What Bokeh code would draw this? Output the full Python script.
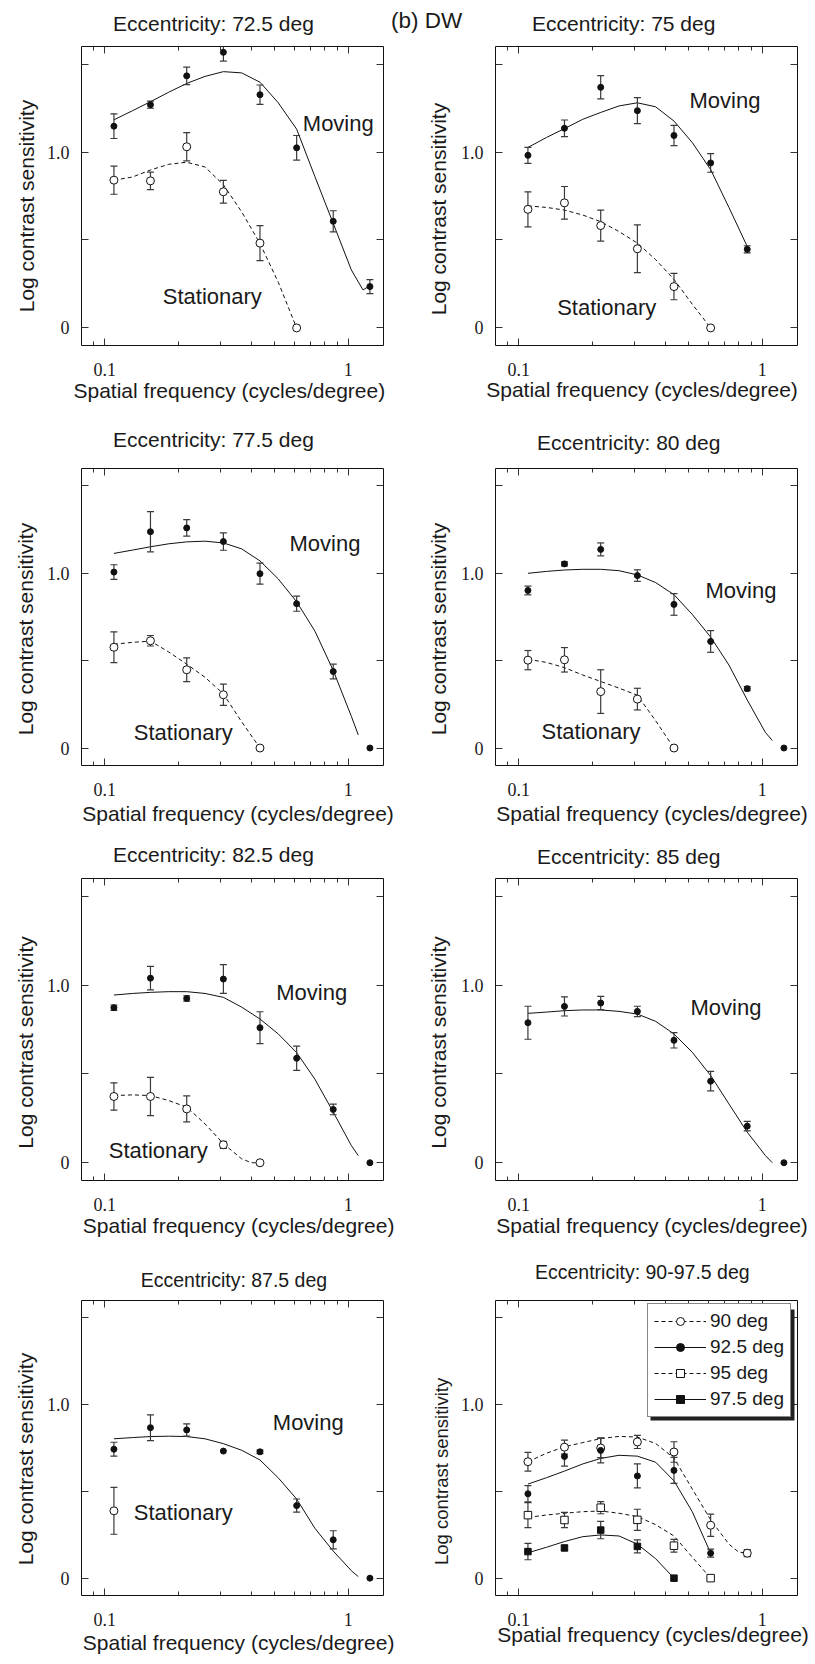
import math
from bokeh.plotting import figure
from bokeh.models import (Range1d, FixedTicker, CustomJSTickFormatter, LinearAxis, LogAxis,
                          Label, Legend, LegendItem, BoxAnnotation, Title)
from bokeh.layouts import column, row
from bokeh.embed import file_html
from bokeh.resources import INLINE

# ---------------- data ----------------
SF = [0.109, 0.154, 0.217, 0.307, 0.434, 0.614, 0.868, 1.228]
X_TICKS = [0.1, 1.0]
X_TICK_LABELS = ["0.1", "1"]
X_MINOR = [0.09, 0.2, 0.3, 0.4, 0.5, 0.6, 0.7, 0.8, 0.9]
Y_TICKS = [0.0, 0.5, 1.0, 1.5]
Y_TICK_LABELS = ["0", "", "1.0", ""]
X_RANGE = (0.0802, 1.3965)
Y_RANGE = (-0.1, 1.6)

FIT_X = [0.109, 0.13, 0.154, 0.183, 0.217, 0.258, 0.307, 0.365, 0.434, 0.516, 0.614, 0.73, 0.868, 1.03, 1.1]

# 72.5 deg
P1_MOV_Y = [1.147, 1.269, 1.433, 1.567, 1.326, 1.024, 0.606, 0.235]
P1_MOV_E = [0.07, 0.02, 0.05, 0.05, 0.055, 0.07, 0.06, 0.04]
P1_MOV_FIT_X = [0.109, 0.13, 0.154, 0.183, 0.217, 0.258, 0.307, 0.365, 0.434, 0.516, 0.614, 0.73, 0.868, 1.03, 1.15, 1.228]
P1_MOV_FIT_Y = [1.183, 1.235, 1.286, 1.34, 1.39, 1.43, 1.457, 1.45, 1.397, 1.28, 1.13, 0.86, 0.594, 0.33, 0.216, 0.24]
P1_STA_Y = [0.84, 0.836, 1.03, 0.774, 0.482, 0.0]
P1_STA_E = [0.08, 0.05, 0.08, 0.065, 0.1, 0.0]
P1_STA_FIT_X = [0.109, 0.13, 0.154, 0.183, 0.217, 0.258, 0.307, 0.365, 0.434, 0.516, 0.614]
P1_STA_FIT_Y = [0.84, 0.858, 0.898, 0.93, 0.942, 0.915, 0.814, 0.66, 0.48, 0.26, 0.0]

# 75 deg
P2_MOV_Y = [0.981, 1.135, 1.368, 1.235, 1.094, 0.938, 0.447]
P2_MOV_E = [0.045, 0.047, 0.066, 0.074, 0.058, 0.053, 0.02]
P2_MOV_FIT_X = [0.109, 0.13, 0.154, 0.183, 0.217, 0.258, 0.307, 0.365, 0.434, 0.516, 0.614, 0.73, 0.868]
P2_MOV_FIT_Y = [1.026, 1.083, 1.133, 1.186, 1.225, 1.262, 1.28, 1.257, 1.176, 1.054, 0.9, 0.685, 0.463]
P2_STA_Y = [0.674, 0.711, 0.582, 0.45, 0.235, 0.0]
P2_STA_E = [0.1, 0.093, 0.088, 0.136, 0.075, 0.0]
P2_STA_FIT_X = [0.109, 0.13, 0.154, 0.183, 0.217, 0.258, 0.307, 0.365, 0.434, 0.516, 0.614]
P2_STA_FIT_Y = [0.694, 0.685, 0.67, 0.642, 0.604, 0.548, 0.482, 0.388, 0.276, 0.135, 0.0]

# 77.5 deg
P3_MOV_Y = [1.007, 1.238, 1.26, 1.182, 0.998, 0.826, 0.438, 0.0]
P3_MOV_E = [0.042, 0.115, 0.047, 0.05, 0.06, 0.043, 0.042, 0.0]
P3_MOV_FIT_Y = [1.114, 1.133, 1.152, 1.169, 1.18, 1.184, 1.174, 1.14, 1.071, 0.968, 0.837, 0.669, 0.444, 0.182, 0.075]
P3_STA_Y = [0.577, 0.614, 0.448, 0.305, 0.0]
P3_STA_E = [0.088, 0.03, 0.068, 0.061, 0.0]
P3_STA_FIT_X = [0.109, 0.13, 0.154, 0.183, 0.217, 0.258, 0.307, 0.365, 0.434]
P3_STA_FIT_Y = [0.594, 0.605, 0.612, 0.55, 0.48, 0.405, 0.31, 0.15, 0.0]

# 80 deg
P4_MOV_Y = [0.902, 1.054, 1.137, 0.987, 0.822, 0.61, 0.34, 0.0]
P4_MOV_E = [0.025, 0.012, 0.037, 0.033, 0.062, 0.062, 0.012, 0.0]
P4_MOV_FIT_Y = [1.0, 1.011, 1.019, 1.023, 1.023, 1.015, 0.991, 0.947, 0.878, 0.765, 0.635, 0.475, 0.275, 0.09, 0.043]
P4_STA_Y = [0.503, 0.505, 0.323, 0.28, 0.0]
P4_STA_E = [0.055, 0.07, 0.125, 0.062, 0.0]
P4_STA_FIT_X = [0.109, 0.13, 0.154, 0.183, 0.217, 0.258, 0.307, 0.365, 0.434]
P4_STA_FIT_Y = [0.508, 0.49, 0.46, 0.418, 0.381, 0.343, 0.302, 0.156, 0.0]

# 82.5 deg
P5_MOV_Y = [0.873, 1.039, 0.925, 1.034, 0.76, 0.588, 0.3, 0.0]
P5_MOV_E = [0.015, 0.066, 0.015, 0.081, 0.09, 0.068, 0.03, 0.0]
P5_MOV_FIT_Y = [0.944, 0.953, 0.959, 0.963, 0.963, 0.953, 0.931, 0.876, 0.809, 0.725, 0.62, 0.47, 0.285, 0.097, 0.04]
P5_STA_Y = [0.373, 0.373, 0.303, 0.101, 0.0]
P5_STA_E = [0.077, 0.108, 0.073, 0.02, 0.0]
P5_STA_FIT_X = [0.109, 0.13, 0.154, 0.183, 0.217, 0.258, 0.307, 0.365, 0.40, 0.434]
P5_STA_FIT_Y = [0.378, 0.382, 0.378, 0.35, 0.313, 0.219, 0.107, 0.022, 0.0, 0.0]

# 85 deg
P6_MOV_Y = [0.788, 0.88, 0.899, 0.852, 0.689, 0.459, 0.206, 0.0]
P6_MOV_E = [0.093, 0.054, 0.037, 0.029, 0.043, 0.055, 0.027, 0.0]
P6_MOV_FIT_Y = [0.841, 0.848, 0.856, 0.86, 0.86, 0.852, 0.837, 0.796, 0.725, 0.622, 0.491, 0.331, 0.172, 0.041, 0.0]

# 87.5 deg
P7_MOV_Y = [0.743, 0.867, 0.854, 0.732, 0.728, 0.418, 0.221, 0.0]
P7_MOV_E = [0.04, 0.074, 0.035, 0.0, 0.01, 0.038, 0.052, 0.0]
P7_MOV_FIT_Y = [0.803, 0.81, 0.816, 0.818, 0.816, 0.803, 0.775, 0.737, 0.681, 0.578, 0.456, 0.287, 0.156, 0.043, 0.009]
P7_STA_X = [0.109]
P7_STA_Y = [0.388]
P7_STA_E = [0.135]

# 90 - 97.5 deg
P8_LABELS = ["90 deg", "92.5 deg", "95 deg", "97.5 deg"]
P8_90_Y = [0.671, 0.755, 0.75, 0.785, 0.727, 0.305, 0.144]
P8_90_E = [0.054, 0.04, 0.056, 0.038, 0.059, 0.064, 0.02]
P8_90_FIT_X = [0.109, 0.13, 0.154, 0.183, 0.217, 0.258, 0.307, 0.365, 0.434, 0.516, 0.614, 0.73, 0.8, 0.868]
P8_90_FIT_Y = [0.671, 0.72, 0.757, 0.781, 0.804, 0.817, 0.813, 0.776, 0.692, 0.514, 0.336, 0.196, 0.15, 0.144]
P8_925_Y = [0.486, 0.701, 0.736, 0.589, 0.621, 0.144]
P8_925_E = [0.047, 0.055, 0.072, 0.069, 0.075, 0.023]
P8_925_FIT_X = [0.109, 0.13, 0.154, 0.183, 0.217, 0.258, 0.307, 0.365, 0.434, 0.516, 0.614]
P8_925_FIT_Y = [0.542, 0.579, 0.617, 0.658, 0.69, 0.708, 0.703, 0.668, 0.561, 0.383, 0.144]
P8_95_Y = [0.363, 0.335, 0.406, 0.336, 0.187, 0.0]
P8_95_E = [0.072, 0.044, 0.035, 0.061, 0.037, 0.0]
P8_95_FIT_X = [0.109, 0.13, 0.154, 0.183, 0.217, 0.258, 0.307, 0.365, 0.434, 0.516, 0.614]
P8_95_FIT_Y = [0.35, 0.364, 0.374, 0.383, 0.387, 0.374, 0.355, 0.308, 0.243, 0.121, 0.0]
P8_975_Y = [0.153, 0.174, 0.277, 0.183, 0.0]
P8_975_E = [0.047, 0.01, 0.05, 0.037, 0.0]
P8_975_FIT_X = [0.109, 0.13, 0.154, 0.183, 0.217, 0.258, 0.307, 0.365, 0.434]
P8_975_FIT_Y = [0.146, 0.178, 0.211, 0.239, 0.249, 0.243, 0.196, 0.112, 0.0]

TITLES = ["Eccentricity: 72.5 deg", "Eccentricity: 75 deg", "Eccentricity: 77.5 deg",
          "Eccentricity: 80 deg", "Eccentricity: 82.5 deg", "Eccentricity: 85 deg",
          "Eccentricity: 87.5 deg", "Eccentricity: 90-97.5 deg"]
PANEL_LABEL = "(b) DW"
X_LABEL = "Spatial frequency (cycles/degree)"
Y_LABEL = "Log contrast sensitivity"

# ---------------- style ----------------
SANS = "Liberation Sans"
SERIF = "Liberation Serif"
TEXT = "#1a1a1a"
LINE = "#111111"
MARK = "#111111"
ERR = "#3a3a3a"
TICK = "#333333"


def lookup_formatter(vals, labels):
    return CustomJSTickFormatter(args=dict(vals=vals, labels=labels), code="""
        for (let i = 0; i < vals.length; i++) { if (Math.abs(vals[i] - tick) < 1e-6) return labels[i]; }
        return '';""")


def blank_formatter():
    return CustomJSTickFormatter(code="return '';")


def style_axis(ax, ticker, formatter, tick_in, minor_in, show_labels, standoff):
    ax.ticker = ticker
    ax.formatter = formatter
    ax.major_tick_in = tick_in
    ax.major_tick_out = 0
    ax.minor_tick_in = minor_in
    ax.minor_tick_out = 0
    ax.major_tick_line_color = TICK
    ax.minor_tick_line_color = TICK
    ax.axis_line_color = None
    ax.major_label_text_font = SERIF
    ax.major_label_text_color = TEXT
    ax.major_label_text_font_size = "18px" if show_labels else "1px"
    ax.major_label_standoff = standoff


def make_fig(canvas, frame):
    cx0, cy0, cx1, cy1 = canvas
    fl, ft, fr, fb = frame
    p = figure(width=cx1 - cx0, height=cy1 - cy0, x_axis_type="log",
               x_range=Range1d(*X_RANGE), y_range=Range1d(*Y_RANGE),
               min_border_left=fl - cx0, min_border_right=cx1 - fr,
               min_border_top=ft - cy0, min_border_bottom=cy1 - fb,
               title_location=None, output_backend="svg", toolbar_location=None)
    p.xgrid.grid_line_color = None
    p.ygrid.grid_line_color = None
    p.outline_line_color = LINE
    p.outline_line_width = 1
    p.background_fill_color = "white"
    p.border_fill_color = "white"
    style_axis(p.xaxis[0], FixedTicker(ticks=X_TICKS, minor_ticks=X_MINOR),
               lookup_formatter(X_TICKS, X_TICK_LABELS), 7, 4, True, 17)
    style_axis(p.yaxis[0], FixedTicker(ticks=Y_TICKS, minor_ticks=[]),
               lookup_formatter(Y_TICKS, Y_TICK_LABELS), 7, 0, True, 12)
    top = LogAxis()
    style_axis(top, FixedTicker(ticks=X_TICKS, minor_ticks=X_MINOR), blank_formatter(), 7, 4, False, 0)
    p.add_layout(top, "above")
    right = LinearAxis()
    style_axis(right, FixedTicker(ticks=Y_TICKS, minor_ticks=[]), blank_formatter(), 7, 0, False, 0)
    p.add_layout(right, "right")
    return p


def side_title(p, side, text, size, offset, standoff, valign):
    t = Title(text=text, align="left", offset=offset, standoff=standoff, vertical_align=valign,
              text_font=SANS, text_font_size=size, text_font_style="normal", text_color=TEXT)
    p.add_layout(t, side)
    return t


def add_text(p, frame, px, py, text, size):
    fl, ft, fr, fb = frame
    p.add_layout(Label(x=px - fl, y=fb - py, x_units="screen", y_units="screen", text=text,
                       text_font=SANS, text_font_size=size, text_color=TEXT,
                       text_align="left", text_baseline="alphabetic"))


def draw_lines(p, fx, fy, dashed):
    return p.line(fx, fy, line_color=LINE, line_width=1, line_dash="4 3" if dashed else "solid")


def draw_err(p, xs, ys, es):
    bx = [x for x, e in zip(xs, es) if e > 0]
    lo = [y - e for y, e in zip(ys, es) if e > 0]
    hi = [y + e for y, e in zip(ys, es) if e > 0]
    if not bx:
        return
    p.segment(x0=bx, y0=lo, x1=bx, y1=hi, line_color=ERR, line_width=1.2)
    p.scatter(x=bx + bx, y=lo + hi, marker="dash", size=7, line_color=ERR, line_width=1.2)


def draw_marks(p, xs, ys, marker, filled, size):
    return p.scatter(xs, ys, marker=marker, size=size, fill_color=MARK if filled else "white",
                     line_color=MARK, line_width=1)


def standard_panel(canvas, frame, mov, sta, mpos, spos):
    p = make_fig(canvas, frame)
    mx, my, me, mfx, mfy = mov
    draw_lines(p, mfx, mfy, False)
    if sta is not None:
        sx, sy, se, sfx, sfy = sta
        if sfx is not None:
            draw_lines(p, sfx, sfy, True)
        draw_err(p, sx, sy, se)
    draw_err(p, mx, my, me)
    if sta is not None:
        draw_marks(p, sx, sy, "circle", False, 8)
    draw_marks(p, mx, my, "circle", True, 6)
    if mpos is not None:
        add_text(p, frame, mpos[0], mpos[1], "Moving", "22px")
    if spos is not None:
        add_text(p, frame, spos[0], spos[1], "Stationary", "22px")
    return p


def axis_titles(p, yl_size, yl_off, yl_so, xl_off, xl_so):
    side_title(p, "left", Y_LABEL, yl_size, yl_off, yl_so, "top")
    side_title(p, "below", X_LABEL, "21px", xl_off, xl_so, "bottom")


# ---------------- panels ----------------
F1 = (81, 46, 383, 348)
p1 = standard_panel((0, 0, 391, 410), F1,
                    (SF, P1_MOV_Y, P1_MOV_E, P1_MOV_FIT_X, P1_MOV_FIT_Y),
                    (SF[:6], P1_STA_Y, P1_STA_E, P1_STA_FIT_X, P1_STA_FIT_Y),
                    (302.3, 125.7), (162.3, 299))
side_title(p1, "above", TITLES[0], "21px", 31.6, 19, "top")
axis_titles(p1, "21px", 33.2, 7, -8, -3)

F2 = (495, 43, 797, 345)
p2 = standard_panel((391, 0, 815, 410), F2,
                    (SF[:7], P2_MOV_Y, P2_MOV_E, P2_MOV_FIT_X, P2_MOV_FIT_Y),
                    (SF[:6], P2_STA_Y, P2_STA_E, P2_STA_FIT_X, P2_STA_FIT_Y),
                    (689, 100), (556.7, 307.3))
spacer = Title(text=" ", standoff=21, text_font_size="1px")
p2.add_layout(spacer, "above")
side_title(p2, "above", TITLES[1], "21px", 36.6, -25.5, "bottom")
side_title(p2, "above", PANEL_LABEL, "22.5px", -104.5, -20, "bottom")
axis_titles(p2, "21px", 30.2, 9.5, -9.3, -6)

F3 = (81, 468, 383, 770)
p3 = standard_panel((0, 410, 410, 832), F3,
                    (SF, P3_MOV_Y, P3_MOV_E, FIT_X, P3_MOV_FIT_Y),
                    (SF[:5], P3_STA_Y, P3_STA_E, P3_STA_FIT_X, P3_STA_FIT_Y),
                    (289, 547.7), (133.3, 736.7))
side_title(p3, "above", TITLES[2], "21px", 31.6, 31, "top")
axis_titles(p3, "21px", 30.2, 9, 0.7, 3)

F4 = (495, 463, 797, 765)
p4 = standard_panel((410, 410, 815, 832), F4,
                    (SF, P4_MOV_Y, P4_MOV_E, FIT_X, P4_MOV_FIT_Y),
                    (SF[:5], P4_STA_Y, P4_STA_E, P4_STA_FIT_X, P4_STA_FIT_Y),
                    (705, 590), (541, 731))
side_title(p4, "above", TITLES[3], "21px", 41.6, 26.4, "top")
axis_titles(p4, "21px", 30.2, 9.5, 0.7, 3)

F5 = (81, 878, 383, 1180)
p5 = standard_panel((0, 832, 410, 1246), F5,
                    (SF, P5_MOV_Y, P5_MOV_E, FIT_X, P5_MOV_FIT_Y),
                    (SF[:5], P5_STA_Y, P5_STA_E, P5_STA_FIT_X, P5_STA_FIT_Y),
                    (275.7, 991.7), (108.3, 1150))
side_title(p5, "above", TITLES[4], "21px", 31.6, 19.6, "top")
axis_titles(p5, "21px", 31.8, 9, 1.3, -3)

F6 = (495, 878, 797, 1180)
p6 = standard_panel((410, 832, 815, 1246), F6,
                    (SF, P6_MOV_Y, P6_MOV_E, FIT_X, P6_MOV_FIT_Y),
                    None, (690, 1006.7), None)
side_title(p6, "above", TITLES[5], "21px", 41.6, 17, "top")
axis_titles(p6, "21px", 31.8, 9.5, 0.7, -3)

F7 = (81, 1293, 383, 1595)
p7 = standard_panel((0, 1246, 410, 1664), F7,
                    (SF, P7_MOV_Y, P7_MOV_E, FIT_X, P7_MOV_FIT_Y),
                    (P7_STA_X, P7_STA_Y, P7_STA_E, None, None),
                    (272.3, 1421.7), (133.3, 1511.7))
side_title(p7, "above", TITLES[6], "19.5px", 59.2, 13.8, "top")
axis_titles(p7, "21px", 30.2, 9, 1.3, 0)

# panel 8 with four series and a legend
F8 = (495, 1300, 797, 1602)
p8 = make_fig((410, 1246, 815, 1664), F8)
series8 = [
    (SF[:7], P8_90_Y, P8_90_E, P8_90_FIT_X, P8_90_FIT_Y, True, "circle", False, 8),
    (SF[:6], P8_925_Y, P8_925_E, P8_925_FIT_X, P8_925_FIT_Y, False, "circle", True, 6),
    (SF[:6], P8_95_Y, P8_95_E, P8_95_FIT_X, P8_95_FIT_Y, True, "square", False, 7.5),
    (SF[:5], P8_975_Y, P8_975_E, P8_975_FIT_X, P8_975_FIT_Y, False, "square", True, 6.5),
]
lines8 = [draw_lines(p8, s[3], s[4], s[5]) for s in series8]
for s in series8:
    draw_err(p8, s[0], s[1], s[2])
marks8 = [draw_marks(p8, s[0], s[1], s[6], s[7], s[8]) for s in series8]
side_title(p8, "above", TITLES[7], "19.5px", 39.5, 29.8, "top")
axis_titles(p8, "18.5px", 30.5, 5.5, 1.7, -15)

LEG_X, LEG_Y, LEG_W, LEG_H = 152, 178, 144, 111
p8.add_layout(BoxAnnotation(left=LEG_X + 3, right=LEG_X + LEG_W + 3, bottom=LEG_Y - 3, top=LEG_Y + LEG_H - 3,
                            left_units="screen", right_units="screen", bottom_units="screen", top_units="screen",
                            fill_color="#222222", fill_alpha=1.0, line_color=None))
legend = Legend(items=[LegendItem(label=lab, renderers=[l, m]) for lab, l, m in zip(P8_LABELS, lines8, marks8)],
                location=(LEG_X, LEG_Y), margin=0, padding=6, spacing=4,
                glyph_width=52, glyph_height=20, label_height=20, label_standoff=4,
                label_text_font=SANS, label_text_font_size="19px", label_text_color=TEXT,
                border_line_color=LINE, border_line_width=1.5,
                background_fill_color="white", background_fill_alpha=1.0)
p8.add_layout(legend)

layout = column(row(p1, p2), row(p3, p4), row(p5, p6), row(p7, p8))
open("out.html", "w").write(file_html(layout, INLINE))
